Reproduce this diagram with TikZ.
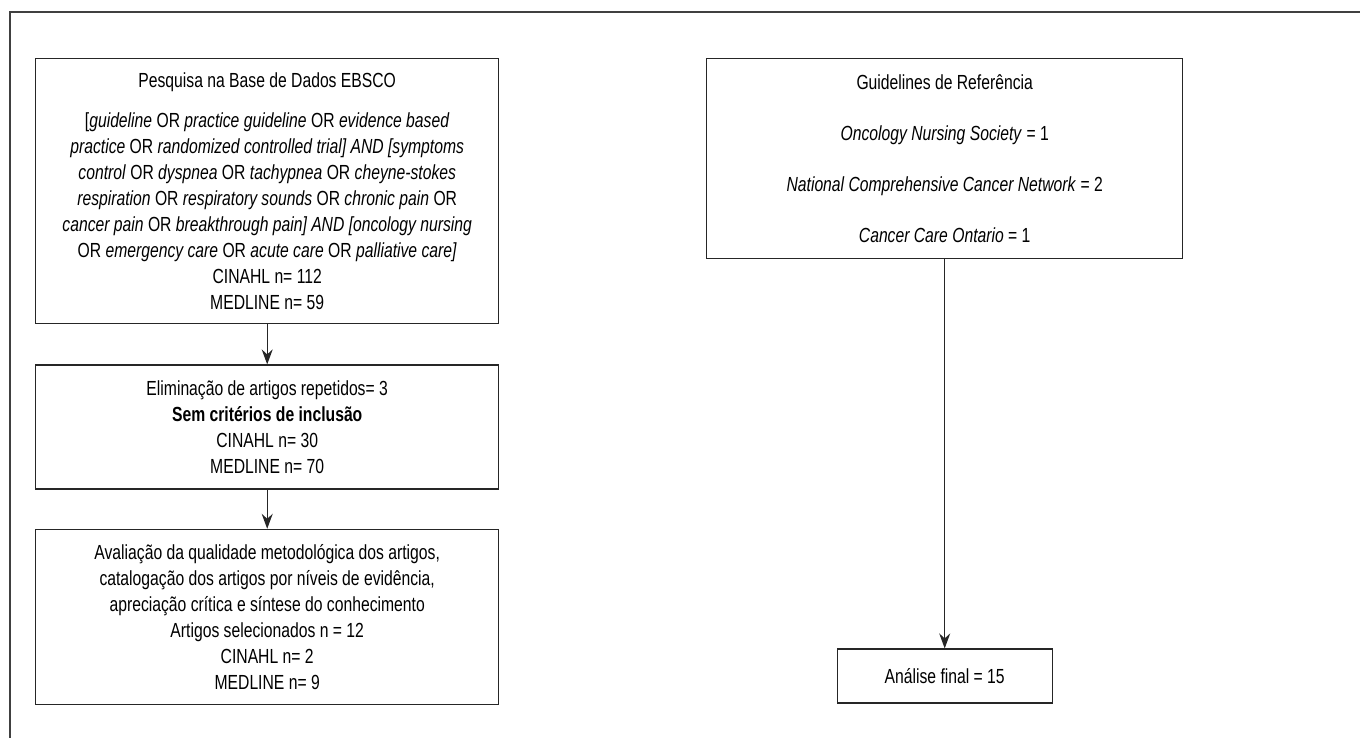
\documentclass[tikz,border=0pt]{standalone}
\usepackage{fontspec}
\setmainfont{Liberation Sans}[FakeStretch=0.77]
\usepackage{tikz}
\usetikzlibrary{arrows.meta,positioning}

\begin{document}
\begin{tikzpicture}[
  node distance=20pt,
  box/.style={draw=black!85, line width=0.7pt, align=center, inner sep=2pt,
    font=\fontsize{10.2}{13}\selectfont},
  wide/.style={box, minimum width=231.5pt},
  arrow/.style={-{Stealth[length=7.5pt,width=5.5pt,inset=2.5pt]}, line width=0.6pt, draw=black!85}
]
\useasboundingbox (0,0) rectangle (680pt,-369pt);
% frame (only top and left edges visible)
\draw[line width=1.1pt, black!75] (5pt,-369pt) -- (5pt,-6pt) -- (680pt,-6pt);

\node[wide, minimum height=132.5pt, anchor=north west] (busca) at (17.5pt,-29pt)
  {Pesquisa na Base de Dados EBSCO\\[7pt]
   [\textit{guideline} OR \textit{practice guideline} OR \textit{evidence based}\\
   \textit{practice} OR \textit{randomized controlled trial] AND [symptoms}\\
   \textit{control} OR \textit{dyspnea} OR \textit{tachypnea} OR \textit{cheyne-stokes}\\
   \textit{respiration} OR \textit{respiratory sounds} OR \textit{chronic pain} OR\\
   \textit{cancer pain} OR \textit{breakthrough pain] AND [oncology nursing}\\
   OR \textit{emergency care} OR \textit{acute care} OR \textit{palliative care]}\\
   CINAHL n= 112\\
   MEDLINE n= 59};
\node[wide, minimum height=62pt, below=20pt of busca] (elim)
  {Eliminação de artigos repetidos= 3\\
   \textbf{Sem critérios de inclusão}\\
   CINAHL n= 30\\
   MEDLINE n= 70};
\node[wide, minimum height=87.5pt, below=19.5pt of elim] (aval)
  {Avaliação da qualidade metodológica dos artigos,\\
   catalogação dos artigos por níveis de evidência,\\
   apreciação crítica e síntese do conhecimento\\
   Artigos selecionados n = 12\\
   CINAHL n= 2\\
   MEDLINE n= 9};
\draw[arrow] (busca) -- (elim);
\draw[arrow] (elim) -- (aval);

\node[box, minimum width=238pt, minimum height=100pt, anchor=north west] (guia) at (353pt,-29pt)
  {Guidelines de Referência\\[12.5pt]
   \textit{Oncology Nursing Society} = 1\\[12.5pt]
   \textit{National Comprehensive Cancer Network} = 2\\[12.5pt]
   \textit{Cancer Care Ontario} = 1};
\node[box, minimum width=107.5pt, minimum height=27pt, below=194.5pt of guia] (final)
  {Análise final = 15};
\draw[arrow] (guia) -- (final);
\end{tikzpicture}
\end{document}
